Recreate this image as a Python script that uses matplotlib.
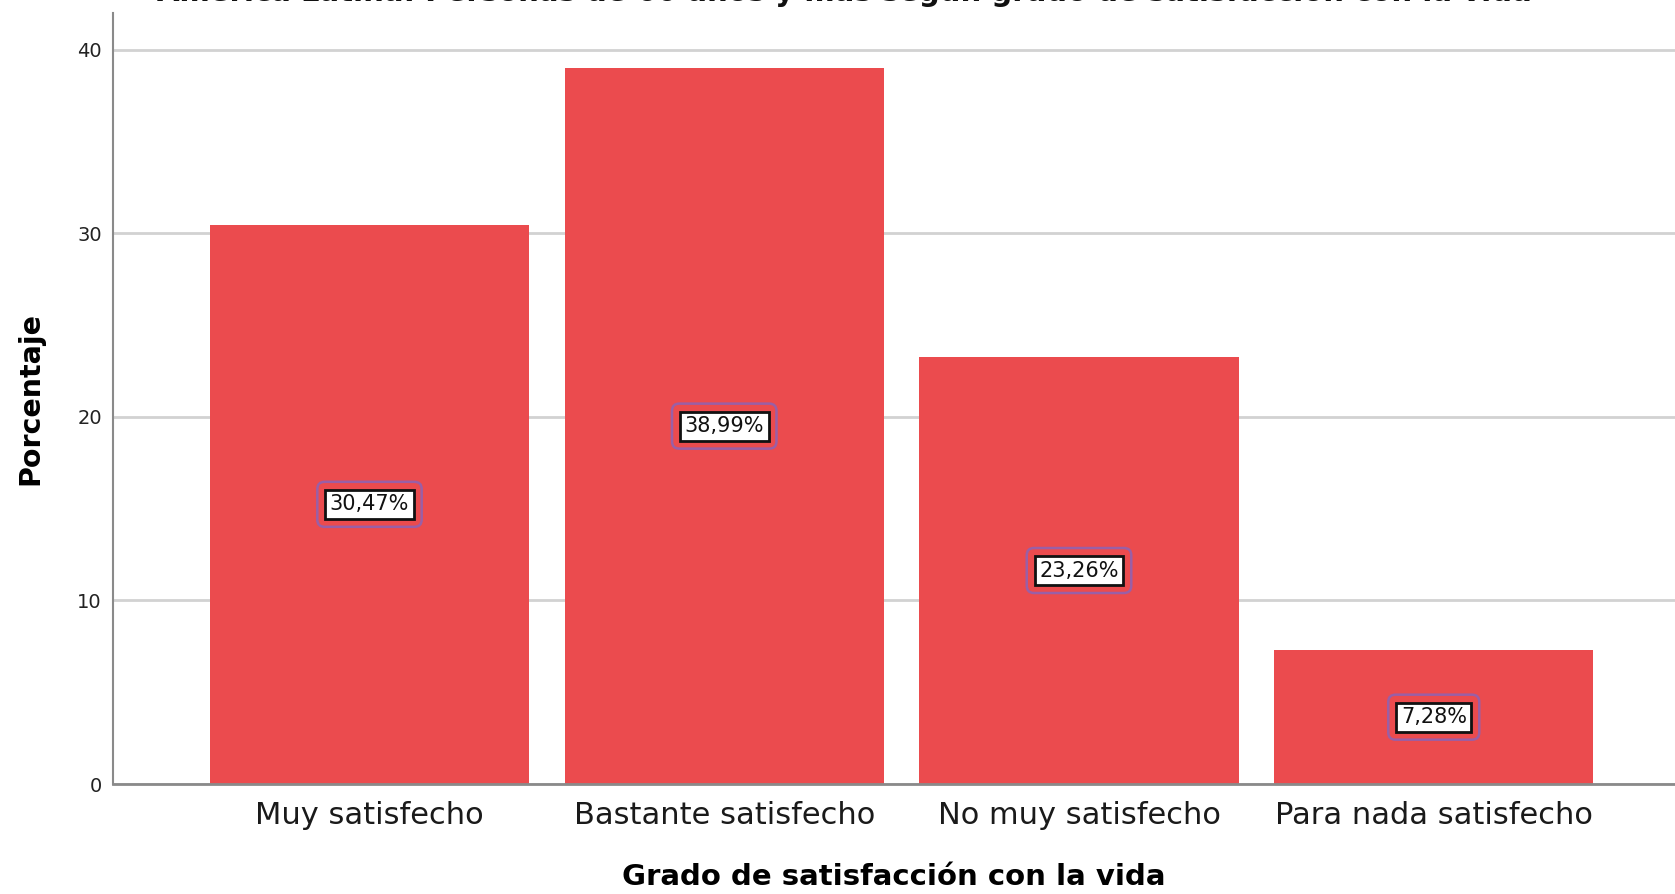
import numpy as np
import matplotlib
matplotlib.use("Agg")
import matplotlib.pyplot as plt

'''
    Data read off the reference chart
'''

categories = ["Muy satisfecho", "Bastante satisfecho",
              "No muy satisfecho", "Para nada satisfecho"]
percentages = [30.47, 38.99, 23.26, 7.28]
value_labels = ["30,47%", "38,99%", "23,26%", "7,28%"]
y_ticks = [0, 10, 20, 30, 40]

title_text = "América Latina: Personas de 60 años y más según grado de satisfacción con la vida"
x_label = "Grado de satisfacción con la vida"
y_label = "Porcentaje"

bar_color = "#eb4b4e"
grid_color = "#d2d2d2"
spine_color = "#8a8a8a"

'''
    Figure
'''

fig = plt.figure(figsize=(16.75, 8.94), dpi=100)
ax = fig.add_axes([113 / 1675, 1 - 784 / 894, 1 - 113 / 1675, (784 - 13) / 894])

x_pos = np.arange(len(categories))
ax.bar(x_pos, percentages, width=0.9, color=bar_color, zorder=2)

ax.set_xlim(-0.723, 3.68)
ax.set_ylim(0, 42)

# grid lines behind bars
ax.set_yticks(y_ticks)
ax.yaxis.grid(True, color=grid_color, linewidth=2, zorder=0)
ax.set_axisbelow(True)

ax.set_xticks(x_pos)
ax.set_xticklabels(categories, fontsize=22, color="#1a1a1a")
ax.tick_params(axis="x", length=0, pad=12)
ax.tick_params(axis="y", length=0, pad=8, labelsize=14, labelcolor="#222222")

for side in ["top", "right"]:
    ax.spines[side].set_visible(False)
ax.spines["left"].set_color(spine_color)
ax.spines["left"].set_linewidth(1.5)
ax.spines["bottom"].set_color(spine_color)
ax.spines["bottom"].set_linewidth(2)

ax.set_xlabel(x_label, fontsize=21, fontweight="bold", labelpad=24)
ax.set_ylabel(y_label, fontsize=20.5, fontweight="bold", labelpad=24)

# value labels: white box with black edge, purple selection frame around it
for xi, val, lab in zip(x_pos, percentages, value_labels):
    ax.text(xi, val / 2, lab, ha="center", va="center", fontsize=15,
            color="none", zorder=3,
            bbox=dict(boxstyle="round,pad=0.6,rounding_size=0.35",
                      facecolor="none", edgecolor="#9a5fa6", linewidth=1.8))
    ax.text(xi, val / 2, lab, ha="center", va="center", fontsize=15,
            color="#111111", zorder=4,
            bbox=dict(boxstyle="square,pad=0.22",
                      facecolor="white", edgecolor="#111111", linewidth=2))

# title is cut off at the top of the picture
fig.text(844 / 1675, 1 - 7 / 894, title_text, ha="center", va="bottom",
         fontsize=21, fontweight="bold", color="#111111")

fig.savefig("out.png", dpi=100)
